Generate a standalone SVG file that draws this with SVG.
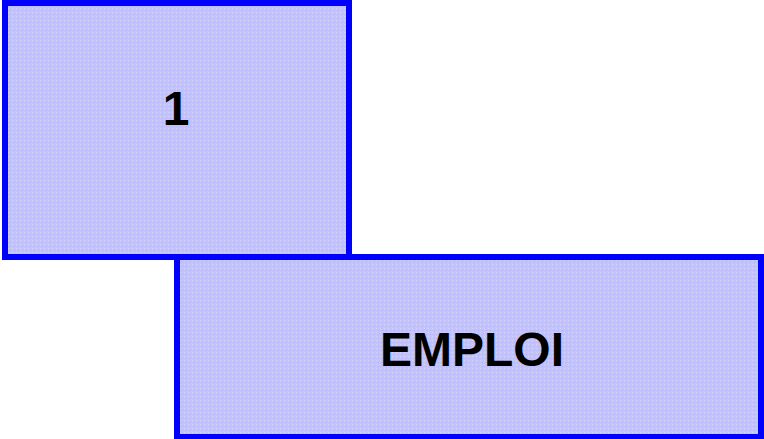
<svg xmlns="http://www.w3.org/2000/svg" width="764" height="439" viewBox="0 0 764 439">
<defs>
<pattern id="dots" width="4" height="4" patternUnits="userSpaceOnUse">
<rect width="4" height="4" fill="#c2c2fc"/>
<rect x="0" y="0" width="1" height="1" fill="#d4d4ff"/>
<rect x="2" y="2" width="1" height="1" fill="#b4b4f4"/>
</pattern>
<style>
.box{fill:url(#dots);stroke:#0000ff;stroke-width:6}
.lbl{font-family:"Liberation Sans",Arial,sans-serif;font-weight:bold;font-size:48px;fill:#000;text-anchor:middle}
</style>
</defs>
<g id="node-1">
<rect class="box" x="5" y="3" width="344" height="254"/>
<text class="lbl" x="176" y="125">1</text>
</g>
<g id="node-emploi">
<rect class="box" x="177" y="257" width="584" height="180"/>
<text class="lbl" x="472" y="366">EMPLOI</text>
</g>
<g id="connectors"/>
</svg>
